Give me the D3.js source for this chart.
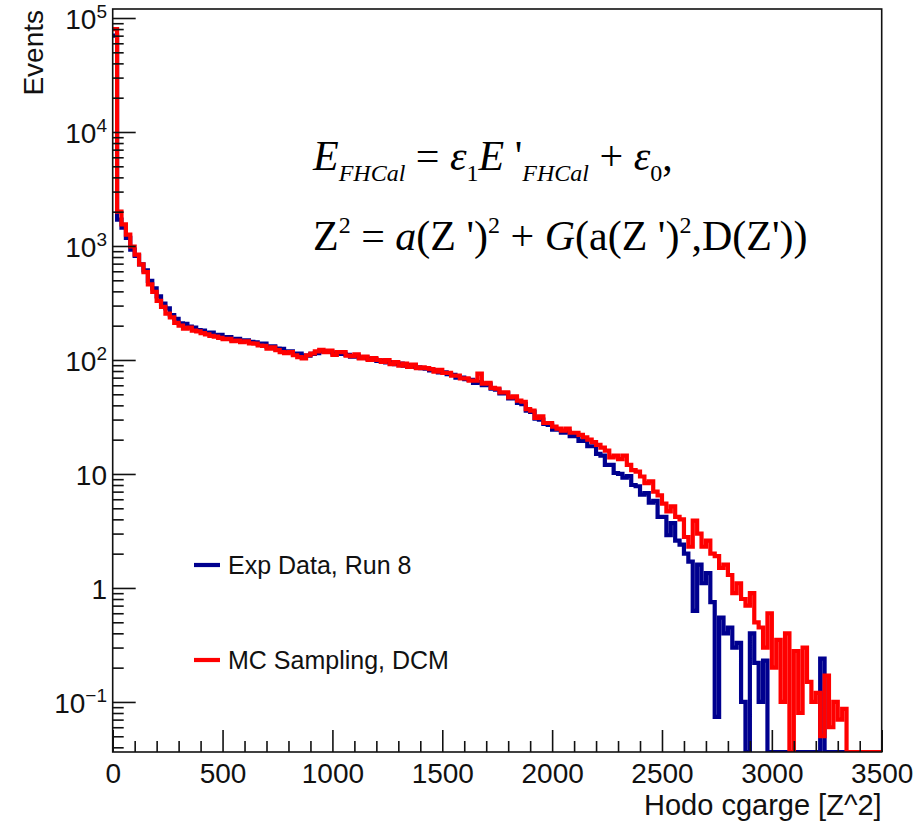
<!DOCTYPE html>
<html><head><meta charset="utf-8">
<script src="https://cdn.jsdelivr.net/npm/d3@7"></script>
<style>
html,body{margin:0;padding:0;background:#fff;}
svg{display:block;}
</style></head>
<body>
<svg id="chart" width="922" height="821"></svg>
<script>
// ---------------- data ----------------
const binWidth = 20;
const xRange = [0, 3500];
const xMajorTicks = [0, 500, 1000, 1500, 2000, 2500, 3000, 3500];
const yDecadeTicks = [1e-1, 1, 10, 1e2, 1e3, 1e4, 1e5];
const yTickLabels = [["10","\u22121"],["1",null],["10",null],["10","2"],["10","3"],["10","4"],["10","5"]];
const seriesNames = ["Exp Data, Run 8", "MC Sampling, DCM"];
const seriesColors = ["#00008f", "#ff0000"];
const xTitle = "Hodo cgarge [Z^2]";
const yTitle = "Events";

// bin contents, 20-unit bins from 0 to 3500 (175 bins)
const expData = [
70000,1700,1450,1180,930,820,690,610,495,425,
362,312,284,247,230,210,207,196,192,183,
181,173,174,165,166,158,159,151,153,148,
149,144,143,138,139,131,132,126,125,119,
119,114,114,109,109,113,115,119,119,118,
114,114,113,111,107,108,105,105,102,102,
98,99,95,96,92,93,89,90,87,86,
85,84,81,81,78,78,75,74,70,70,
68,67,63,64,60,61,56,55,51,51,
46,46,42,41,36,35,30.5,30,27.5,27,
24.5,24.5,23,23.5,21.5,21.5,19.5,19.5,17.5,17.5,
15,14.5,12,12,10.2,10,9.3,9.6,8,7.8,
6.6,6.8,5.6,5.8,4.2,4.2,2.9,3.7,2.6,2.4,
2.0,1.7,0.63,1.6,1.1,1.35,0.75,0.074,0.55,0.4,
0.45,0.3,0.33,0.1,0,0.4,0.22,0.1,0.23,0,
0,0,0,0,0,0,0,0,0,0,
0,0.24,0,0,0,0,0,0,0,0,
0,0,0,0,0
];
const mcSampling = [
80000,2000,1550,1260,990,840,690,590,460,395,
330,292,255,236,212,200,188,192,181,178,
172,168,163,160,156,152,153,146,148,143,
146,140,139,134,133,126,129,122,117,115,
117,110,106,103,110,114,119,123,117,121,
111,117,117,109,108,112,103,107,100,104,
100,96,100,92,96,89,93,87,91,85,
86,85,83,79,82,77,77,73,73,69,
69,66,66,76,62,63,57,56,52,52,
47,48,44,43,37,36,31,32,28,28,
26,25,24,25,23,23,22,21,20,19,
18,17,16,14,14.5,13.5,14.5,12,10.8,10.5,
9.5,8.3,8.6,7,6.5,5.5,4.7,5.2,4.2,4.0,
2.8,2.3,3.9,3.0,2.3,2.6,2.0,1.9,1.5,1.6,
1.3,0.9,1.1,0.8,0.7,0.9,0.5,0.45,0.3,0.6,
0.2,0.35,0.1,0.4,0,0.28,0.08,0.3,0.15,0.1,
0.12,0.05,0.17,0.06,0.1,0.07,0.087,0,0,0,
0,0,0,0,0
];

// ---------------- layout ----------------
const L = 112.7, R = 881.7, T = 9, B = 752;
const yMin = Math.pow(10, -1.439), yMax = Math.pow(10, 5.079);
const svg = d3.select("#chart");
const x = d3.scaleLinear().domain(xRange).range([L, R]);
const y = d3.scaleLog().domain([yMin, yMax]).range([B, T]);
const sans = "'Liberation Sans', Arial, Helvetica, sans-serif";
const serif = "'Liberation Serif', 'Times New Roman', serif";

svg.append("defs").append("clipPath").attr("id","clip")
  .append("rect").attr("x",L).attr("y",T).attr("width",R-L).attr("height",B-T);

// histograms
const binLows = d3.range(xRange[0], xRange[1], binWidth);
function stepPoints(vals){
  const pts = binLows.map((lo,i)=>[lo, vals[i]]);
  pts.push([xRange[1], vals[vals.length-1]]);
  return pts;
}
const line = d3.line()
  .x(d=>x(d[0]))
  .y(d=> d[1] > yMin ? y(d[1]) : B)
  .curve(d3.curveStepAfter);
const gH = svg.append("g").attr("clip-path","url(#clip)");
[expData, mcSampling].forEach((vals,k)=>{
  gH.append("path").attr("d", line(stepPoints(vals)))
    .attr("fill","none").attr("stroke",seriesColors[k])
    .attr("stroke-width",4.2).attr("stroke-linejoin","miter");
});

// frame
svg.append("rect").attr("x",L).attr("y",T).attr("width",R-L).attr("height",B-T)
  .attr("fill","none").attr("stroke","#111").attr("stroke-width",1.6);

// x axis
const xMinor = d3.range(0, 3501, 100).filter(v=>v%500!==0);
const gx = svg.append("g").attr("transform",`translate(0,${B})`);
gx.call(d3.axisBottom(x).tickValues(xMajorTicks).tickSize(-22).tickPadding(11)
  .tickFormat(d3.format("d")));
const gxm = svg.append("g").attr("transform",`translate(0,${B})`);
gxm.call(d3.axisBottom(x).tickValues(xMinor).tickSize(-11).tickFormat(""));
[gx,gxm].forEach(g=>{
  g.select(".domain").remove();
  g.selectAll("line").attr("stroke","#111").attr("stroke-width",1.6);
  g.selectAll("text").attr("font-family",sans).attr("font-size",28).attr("fill","#111");
});

// y axis
const yMinor = [];
for(let e=-2;e<=5;e++){ for(let m=2;m<=9;m++){ const v=m*Math.pow(10,e); if(v>yMin && v<yMax) yMinor.push(v);} }
const gy = svg.append("g").attr("transform",`translate(${L},0)`);
gy.call(d3.axisLeft(y).tickValues(yDecadeTicks).tickSize(-23).tickFormat(""));
const gym = svg.append("g").attr("transform",`translate(${L},0)`);
gym.call(d3.axisLeft(y).tickValues(yMinor).tickSize(-11).tickFormat(""));
[gy,gym].forEach(g=>{
  g.select(".domain").remove();
  g.selectAll("line").attr("stroke","#111").attr("stroke-width",1.6);
});
yDecadeTicks.forEach((v,i)=>{
  const [base, sup] = yTickLabels[i];
  const t = svg.append("text").attr("x",107).attr("y",y(v)+11)
    .attr("text-anchor","end").attr("font-family",sans).attr("font-size",28).attr("fill","#111");
  t.append("tspan").text(base);
  if(sup!==null){
    t.append("tspan").attr("font-size",19).attr("dy",-11).text(sup);
  }
});

// axis titles
svg.append("text").attr("x",R).attr("y",815).attr("text-anchor","end")
  .attr("font-family",sans).attr("font-size",29).attr("fill","#111").text(xTitle);
svg.append("text").attr("transform","translate(43,10) rotate(-90)").attr("text-anchor","end")
  .attr("font-family",sans).attr("font-size",28).attr("fill","#111").text(yTitle);

// legend
const legY = [565, 660];
seriesNames.forEach((name,k)=>{
  svg.append("line").attr("x1",194).attr("x2",220).attr("y1",legY[k]).attr("y2",legY[k])
    .attr("stroke",seriesColors[k]).attr("stroke-width",4.2);
  svg.append("text").attr("x",228).attr("y",legY[k]+9)
    .attr("font-family",sans).attr("font-size",25).attr("fill","#111").text(name);
});

// formula
function formula(xp, yp, parts){
  const t = svg.append("text").attr("x",xp).attr("y",yp)
    .attr("font-family",serif).attr("font-size",42).attr("fill","#000");
  let cur = 0;
  parts.forEach(p=>{
    const [s, style, shift] = p;
    const ts = t.append("tspan").text(s);
    if(style.includes("i")) ts.attr("font-style","italic");
    if(shift!==0) ts.attr("font-size",24);
    const dy = shift - cur;
    if(dy!==0) ts.attr("dy",dy);
    cur = shift;
  });
  return t;
}
formula(313, 170, [
  ["E","i",0],["FHCal","i",11],["\u00a0=\u00a0","",0],["\u03b5","i",0],["1","",11],
  ["E","i",0],["\u00a0'","",0],["FHCal","i",11],["\u00a0+\u00a0","",0],["\u03b5","i",0],["0","",11],[",","",0]
]);
formula(313, 250, [
  ["Z","",0],["2","",-17],["\u00a0=\u00a0","",0],["a","i",0],["(Z\u00a0')","",0],["2","",-17],
  ["\u00a0+\u00a0","",0],["G","i",0],["(a(Z\u00a0')","",0],["2","",-17],[",D(Z'))","",0]
]);
</script>
</body></html>
